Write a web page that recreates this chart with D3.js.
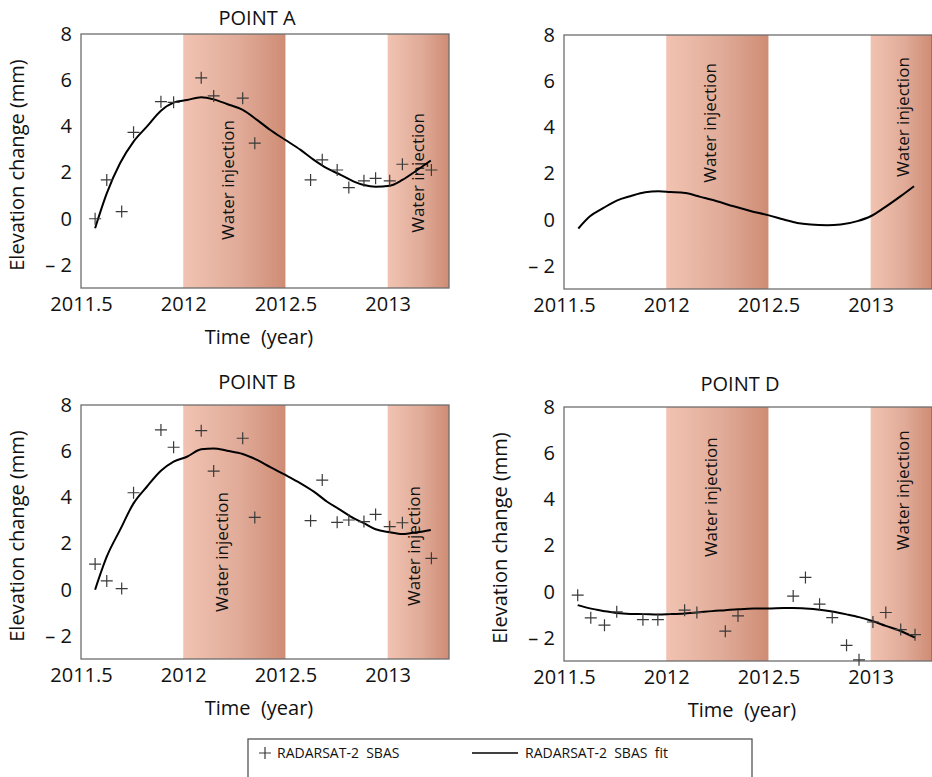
<!DOCTYPE html>
<html>
<head>
<meta charset="utf-8">
<script src="https://cdn.jsdelivr.net/npm/d3@7"></script>
<style>
  body { margin: 0; background: #fff; }
  svg { display: block; font-family: "Open Sans", sans-serif; }
  svg text { white-space: pre; }
</style>
</head>
<body>
<div id="chart"></div>
<script>
// Axis ticks
const xTicks = [2011.5, 2012, 2012.5, 2013];
const xTickLabels = ["2011.5", "2012", "2012.5", "2013"];
const yTicks = [-2, 0, 2, 4, 6, 8];
const yTickLabels = ["\u2013 2", "0", "2", "4", "6", "8"];

// Water injection periods
const injectionStart = [2012, 2013];
const injectionEnd = [2012.5, 2013.3];

// SBAS acquisition dates (points A and B)
const datesAB = [2011.569, 2011.626, 2011.699, 2011.757, 2011.891, 2011.953, 2012.088, 2012.149, 2012.291, 2012.35,
                 2012.623, 2012.68, 2012.753, 2012.81, 2012.884, 2012.941, 2013.01, 2013.072, 2013.214];
const valuesA = [0.0, 1.68, 0.31, 3.74, 5.07, 5.04, 6.10, 5.32, 5.22, 3.27,
                 1.68, 2.55, 2.11, 1.35, 1.64, 1.75, 1.64, 2.36, 2.11];
const valuesB = [1.11, 0.38, 0.05, 4.20, 6.92, 6.17, 6.89, 5.14, 6.56, 3.13,
                 2.99, 4.75, 2.92, 3.02, 2.95, 3.26, 2.73, 2.90, 1.36];

// Point D acquisition dates
const datesD = [2011.567, 2011.631, 2011.698, 2011.758, 2011.886, 2011.959, 2012.09, 2012.15, 2012.289, 2012.351,
                2012.621, 2012.681, 2012.75, 2012.812, 2012.882, 2012.943, 2013.011, 2013.074, 2013.147, 2013.217];
const valuesD = [-0.15, -1.13, -1.45, -0.87, -1.21, -1.21, -0.80, -0.90, -1.71, -1.05,
                 -0.19, 0.62, -0.54, -1.12, -2.32, -2.95, -1.31, -0.90, -1.64, -1.86];

// Fitted curves
const fitYearsAB = [2011.569, 2011.626, 2011.691, 2011.757, 2011.822, 2011.891, 2011.953, 2012.018, 2012.088, 2012.149,
                    2012.214, 2012.291, 2012.361, 2012.426, 2012.5, 2012.574, 2012.639, 2012.704, 2012.77, 2012.835,
                    2012.884, 2012.941, 2013.01, 2013.072, 2013.145, 2013.211];
const fitValuesA = [-0.41, 1.10, 2.40, 3.34, 3.99, 4.68, 5.03, 5.14, 5.26, 5.17,
                    4.97, 4.71, 4.28, 3.84, 3.41, 2.98, 2.55, 2.18, 1.90, 1.61,
                    1.46, 1.39, 1.43, 1.68, 2.11, 2.52];
const fitValuesB = [0.0, 1.43, 2.59, 3.74, 4.46, 5.15, 5.55, 5.76, 6.08, 6.12,
                    6.02, 5.88, 5.62, 5.31, 4.97, 4.61, 4.25, 3.81, 3.45, 3.09,
                    2.88, 2.62, 2.49, 2.41, 2.49, 2.59];
const fitYearsC = [2011.570, 2011.627, 2011.693, 2011.758, 2011.824, 2011.897, 2011.962, 2012.020, 2012.093, 2012.167,
                   2012.248, 2012.330, 2012.412, 2012.498, 2012.575, 2012.641, 2012.706, 2012.788, 2012.853, 2012.935,
                   2013.000, 2013.065, 2013.147, 2013.212];
const fitValuesC = [-0.38, 0.15, 0.51, 0.83, 1.02, 1.19, 1.23, 1.20, 1.16, 0.99,
                    0.80, 0.58, 0.38, 0.20, 0.01, -0.14, -0.21, -0.24, -0.21, -0.06,
                    0.15, 0.51, 1.02, 1.45];
const fitYearsD = [2011.567, 2011.627, 2011.693, 2011.758, 2011.824, 2011.889, 2011.959, 2012.020, 2012.090, 2012.150,
                   2012.224, 2012.289, 2012.351, 2012.428, 2012.498, 2012.575, 2012.621, 2012.681, 2012.750, 2012.812,
                   2012.882, 2012.943, 2013.011, 2013.074, 2013.147, 2013.217];
const fitValuesD = [-0.58, -0.72, -0.83, -0.92, -0.96, -0.97, -0.99, -0.97, -0.94, -0.90,
                    -0.84, -0.80, -0.76, -0.73, -0.73, -0.71, -0.71, -0.73, -0.78, -0.86,
                    -0.98, -1.10, -1.28, -1.48, -1.70, -1.99];

// Panel layout
const plotW = 368, plotH = 254;
const panels = [
  { title: "POINT A", left: 81, top: 34, titleDy: -9, dates: datesAB, values: valuesA,
    fitYears: fitYearsAB, fitValues: fitValuesA, axisTitles: true,
    labelPos: [[2012.22, -0.92], [2013.15, -0.61]] },
  { title: null, left: 564, top: 35, titleDy: 0, dates: [], values: [],
    fitYears: fitYearsC, fitValues: fitValuesC, axisTitles: false,
    labelPos: [[2012.216, 1.6], [2013.157, 1.85]] },
  { title: "POINT B", left: 81, top: 405, titleDy: -16, dates: datesAB, values: valuesB,
    fitYears: fitYearsAB, fitValues: fitValuesB, axisTitles: true,
    labelPos: [[2012.19, -0.96], [2013.13, -0.7]] },
  { title: "POINT D", left: 564, top: 407, titleDy: -16, dates: datesD, values: valuesD,
    fitYears: fitYearsD, fitValues: fitValuesD, axisTitles: true,
    labelPos: [[2012.22, 1.5], [2013.16, 1.8]] }
];

const svg = d3.select("#chart")
    .append("svg")
    .attr("width", 932)
    .attr("height", 777);

svg.append("rect").attr("width", 932).attr("height", 777).attr("fill", "#fff");

// Gradient for injection bands
const grad = svg.append("defs").append("linearGradient")
    .attr("id", "injGrad")
    .attr("x1", "0%").attr("x2", "100%").attr("y1", "0%").attr("y2", "0%");
grad.append("stop").attr("offset", "0%").attr("stop-color", "#f2c3b2");
grad.append("stop").attr("offset", "55%").attr("stop-color", "#e0ab98");
grad.append("stop").attr("offset", "100%").attr("stop-color", "#cf8c74");

const x = d3.scaleLinear().domain([2011.5, 2013.3]).range([0, plotW]);
const y = d3.scaleLinear().domain([-3, 8]).range([plotH, 0]);

const bands = injectionStart.map((s, i) => ({ start: s, end: injectionEnd[i] }));

panels.forEach(p => {
    const g = svg.append("g").attr("transform", `translate(${p.left},${p.top})`);

    // Injection bands
    g.selectAll(".band")
        .data(bands)
        .enter()
        .append("rect")
        .attr("class", "band")
        .attr("x", d => x(d.start))
        .attr("y", 0)
        .attr("width", d => x(d.end) - x(d.start))
        .attr("height", plotH)
        .attr("fill", "url(#injGrad)");

    // Band labels
    g.selectAll(".band-label")
        .data(p.labelPos)
        .enter()
        .append("text")
        .attr("transform", d => `translate(${x(d[0])},${y(d[1])}) rotate(-90)`)
        .attr("dy", "0.35em")
        .attr("font-size", "17px")
        .attr("fill", "#111")
        .text("Water injection");

    // Frame
    g.append("rect")
        .attr("width", plotW)
        .attr("height", plotH)
        .attr("fill", "none")
        .attr("stroke", "#6e6e6e")
        .attr("stroke-width", 1.3);

    // Axes
    const xAxis = g.append("g")
        .attr("transform", `translate(0,${plotH})`)
        .call(d3.axisBottom(x).tickValues(xTicks).tickSize(0).tickPadding(9)
            .tickFormat((d, i) => xTickLabels[i]));
    const yAxis = g.append("g")
        .call(d3.axisLeft(y).tickValues(yTicks).tickSize(0).tickPadding(9)
            .tickFormat((d, i) => yTickLabels[i]));
    [xAxis, yAxis].forEach(a => {
        a.select(".domain").remove();
        a.selectAll("text")
            .attr("font-family", "'Open Sans', sans-serif")
            .attr("font-size", "20px")
            .attr("fill", "#111");
    });

    // Fit line
    const fit = p.fitYears.map((t, i) => ({ t: t, v: p.fitValues[i] }));
    g.append("path")
        .datum(fit)
        .attr("fill", "none")
        .attr("stroke", "#000")
        .attr("stroke-width", 2)
        .attr("d", d3.line().x(d => x(d.t)).y(d => y(d.v)).curve(d3.curveMonotoneX));

    // SBAS points
    const pts = p.dates.map((t, i) => ({ t: t, v: p.values[i] }));
    g.selectAll(".pt")
        .data(pts)
        .enter()
        .append("path")
        .attr("class", "pt")
        .attr("transform", d => `translate(${x(d.t)},${y(d.v)})`)
        .attr("d", "M-6,0H6M0,-6V6")
        .attr("stroke", "#3a3a3a")
        .attr("stroke-width", 1.2);

    // Titles
    if (p.title) {
        g.append("text")
            .attr("x", 176)
            .attr("y", p.titleDy)
            .attr("text-anchor", "middle")
            .attr("font-size", "20px")
            .attr("fill", "#111")
            .text(p.title);
    }
    if (p.axisTitles) {
        g.append("text")
            .attr("transform", `translate(-64,${plotH / 2 + 4}) rotate(-90)`)
            .attr("dy", "0.35em")
            .attr("text-anchor", "middle")
            .attr("font-size", "20px")
            .attr("fill", "#111")
            .text("Elevation change (mm)");
        g.append("text")
            .attr("x", 178)
            .attr("y", plotH + 56)
            .attr("text-anchor", "middle")
            .attr("font-size", "20px")
            .attr("fill", "#111")
            .text("Time  (year)");
    }
});

// Legend
const legend = svg.append("g");
legend.append("rect")
    .attr("x", 248).attr("y", 739)
    .attr("width", 504).attr("height", 60)
    .attr("fill", "none")
    .attr("stroke", "#555")
    .attr("stroke-width", 1.3);
legend.append("path")
    .attr("transform", "translate(265,753)")
    .attr("d", "M-6,0H6M0,-6V6")
    .attr("stroke", "#3a3a3a")
    .attr("stroke-width", 1.2);
legend.append("text")
    .attr("x", 277).attr("y", 758)
    .attr("font-size", "14px")
    .attr("fill", "#111")
    .text("RADARSAT-2  SBAS");
legend.append("line")
    .attr("x1", 472).attr("x2", 518)
    .attr("y1", 753).attr("y2", 753)
    .attr("stroke", "#000")
    .attr("stroke-width", 1.3);
legend.append("text")
    .attr("x", 525).attr("y", 758)
    .attr("font-size", "14px")
    .attr("fill", "#111")
    .text("RADARSAT-2  SBAS  fit");
</script>
</body>
</html>
